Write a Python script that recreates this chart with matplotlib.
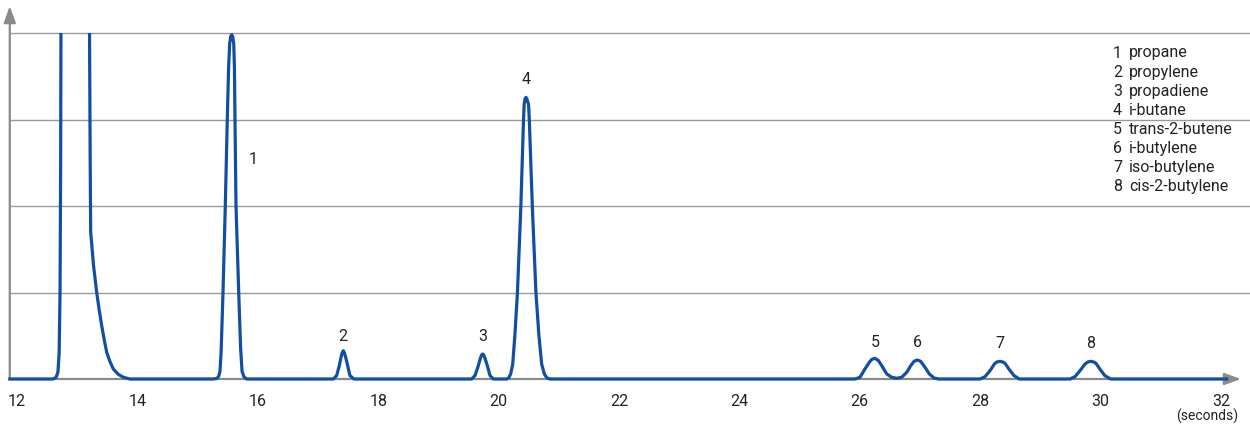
import matplotlib
matplotlib.use('Agg')
import matplotlib.pyplot as plt

plt.rcParams['font.family'] = ['Roboto', 'DejaVu Sans']

# chromatogram trace (time in seconds, signal in grid units)
trace_t = [
    11.88, 12.60, 12.65, 12.68, 12.70, 12.715, 12.725, 12.73, 12.74,
    13.20, 13.205, 13.215, 13.224, 13.27, 13.324, 13.365, 13.407, 13.45,
    13.49, 13.545, 13.60, 13.68, 13.766, 13.877,
    # peak 1
    15.25, 15.317, 15.35, 15.372, 15.39, 15.422, 15.46, 15.493, 15.515,
    15.533, 15.55, 15.566, 15.583, 15.60, 15.612, 15.621, 15.638, 15.683,
    15.715, 15.738, 15.77, 15.816,
    # peak 2
    17.20, 17.255, 17.31, 17.354, 17.382, 17.40, 17.42, 17.44, 17.46,
    17.493, 17.53, 17.598,
    # peak 3
    19.553, 19.608, 19.663, 19.697, 19.715, 19.735, 19.755, 19.774,
    19.813, 19.857, 19.913,
    # peak 4
    20.135, 20.17, 20.20, 20.234, 20.27, 20.313, 20.37, 20.414, 20.425,
    20.44, 20.455, 20.47, 20.485, 20.497, 20.51, 20.56, 20.62, 20.67,
    20.716, 20.76, 20.80, 20.854,
    # peaks 5 and 6
    25.92, 26.003, 26.086, 26.158, 26.20, 26.253, 26.31, 26.365, 26.448,
    26.53, 26.613, 26.696, 26.779, 26.846, 26.90, 26.955, 27.011, 27.083,
    27.155, 27.233, 27.305,
    # peaks 7 and 8
    27.997, 28.08, 28.163, 28.235, 28.28, 28.33, 28.38, 28.412, 28.484,
    28.562, 28.65,
    29.492, 29.575, 29.658, 29.741, 29.79, 29.84, 29.89, 29.923, 29.995,
    30.07, 30.168,
    32.095,
]
trace_signal = [
    0, 0, 0.02, 0.08, 0.3, 1.0, 2.5, 4.0, 4.3,
    4.3, 4.0, 2.6, 1.70, 1.32, 1.00, 0.80, 0.616, 0.45,
    0.309, 0.20, 0.116, 0.055, 0.02, 0,
    0, 0.005, 0.03, 0.09, 0.3, 1.0, 2.0, 3.0, 3.6,
    3.88, 3.96, 3.98, 3.96, 3.88, 3.6, 3.0, 2.0, 1.0,
    0.35, 0.09, 0.025, 0,
    0, 0, 0.04, 0.154, 0.25, 0.30, 0.327, 0.30, 0.25,
    0.154, 0.04, 0,
    0, 0.04, 0.154, 0.239, 0.275, 0.289, 0.275, 0.239,
    0.154, 0.04, 0,
    0, 0.015, 0.058, 0.17, 0.5, 1.0, 2.0, 3.0, 3.18,
    3.24, 3.256, 3.24, 3.2, 3.18, 3.0, 2.0, 1.0, 0.5,
    0.17, 0.058, 0.015, 0,
    0, 0.02, 0.116, 0.193, 0.228, 0.239, 0.212, 0.154, 0.058,
    0.02, 0.008, 0.02, 0.077, 0.154, 0.204, 0.22, 0.204, 0.135,
    0.058, 0.012, 0,
    0, 0.027, 0.096, 0.173, 0.198, 0.204, 0.196, 0.181, 0.108,
    0.039, 0,
    0, 0.027, 0.096, 0.173, 0.198, 0.204, 0.196, 0.181, 0.108,
    0.039, 0,
    0,
]

peak_ids = ['1', '2', '3', '4', '5', '6', '7', '8']
peak_names = ['propane', 'propylene', 'propadiene', 'i-butane',
              'trans-2-butene', 'i-butylene', 'iso-butylene', 'cis-2-butylene']
peak_times = [15.566, 17.42, 19.735, 20.455, 26.253, 26.955, 28.33, 29.84]
x_ticks = list(range(12, 33, 2))

# label offsets from apex, in pixels (dx, dy)
label_offsets = [(22, -124), (0, 15), (0, 19), (0, 19), (0, 17), (0, 18), (0, 19), (0, 19)]

BLUE = '#124ea2'
GRID = '#9a9a9a'
AXIS = '#8a8a8a'
TEXT = '#222222'
FS = 11.5

W, H = 1250, 431
fig = plt.figure(figsize=(W / 100, H / 100), dpi=100)
# baseline at pixel 380, top gridline at pixel 34, x=12 at pixel 17, 60.2 px per second
y_bot = 380 + 0.1 * 86.5
ax = fig.add_axes([4 / W, (H - y_bot) / H, 1 - 4 / W, (y_bot - 34) / H])
x0 = 11.88
x_end = 12 + 1233 / 60.2
ax.set_xlim(12 - 13 / 60.2, x_end)
ax.set_ylim(-0.1, 4.0)

for s in ax.spines.values():
    s.set_visible(False)
ax.set_yticks([])
ax.set_xticks(x_ticks)
ax.set_xticklabels([str(t) for t in x_ticks], fontsize=FS, color=TEXT)
ax.tick_params(axis='x', length=0, pad=3.5)

# gridlines
for g in [1, 2, 3, 4]:
    ax.hlines(g, x0, x_end, color=GRID, lw=1.0, zorder=1, clip_on=False)

# axis arrows
arrow = dict(arrowstyle='-|>,head_length=1.0,head_width=0.36', color=AXIS, lw=1.6,
             shrinkA=0, shrinkB=0)
ax.annotate('', xy=(x0, (380 - 7) / 86.5), xytext=(x0, 0), arrowprops=arrow,
            annotation_clip=False, zorder=2)
ax.annotate('', xy=(12 + (1241 - 17) / 60.2, 0), xytext=(x0, 0), arrowprops=arrow,
            annotation_clip=False, zorder=2)

ax.plot(trace_t, trace_signal, color=BLUE, lw=2.3, zorder=3, solid_joinstyle='round')

# peak labels
for pid, t, (dx, dy) in zip(peak_ids, peak_times, label_offsets):
    apex = max(s for tt, s in zip(trace_t, trace_signal) if abs(tt - t) < 0.05)
    ax.annotate(pid, xy=(t, apex), xytext=(dx * 0.72, dy * 0.72), textcoords='offset points',
                ha='center', va='center', fontsize=FS, color=TEXT)

fig.text(1238 / W, 1 - 416 / H, '(seconds)', ha='right', va='center', fontsize=10, color=TEXT)

# compound list
for i, (pid, name) in enumerate(zip(peak_ids, peak_names)):
    y = 1 - (53 + i * 19.1) / H
    fig.text(1113 / W, y, pid, ha='left', va='center', fontsize=FS, color=TEXT)
    fig.text(1129 / W, y, name, ha='left', va='center', fontsize=FS, color=TEXT)

fig.savefig('out.png', dpi=100)
